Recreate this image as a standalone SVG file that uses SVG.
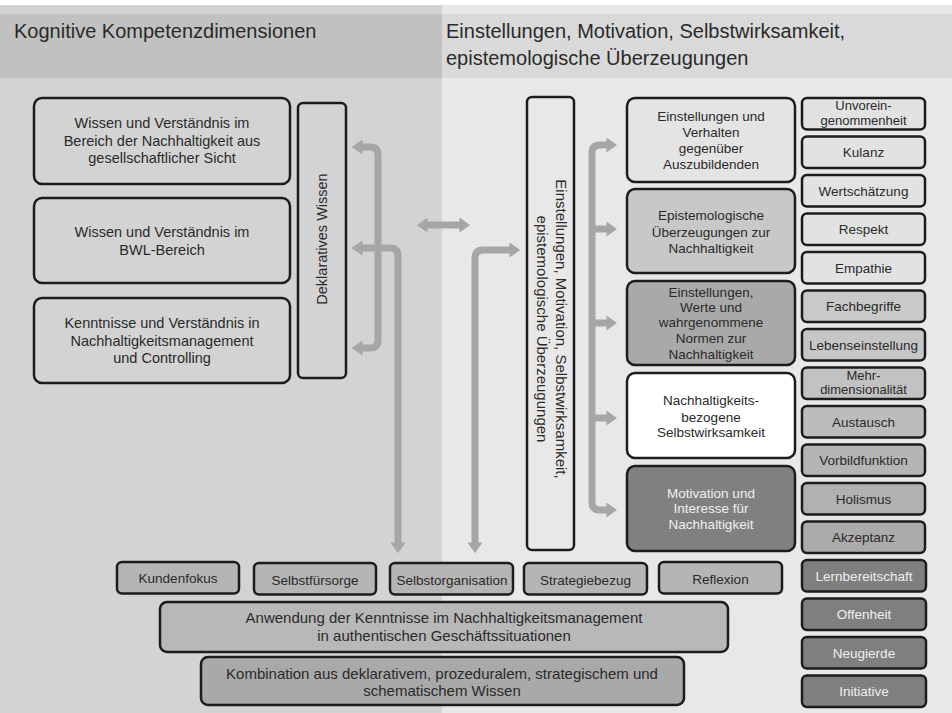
<svg xmlns="http://www.w3.org/2000/svg" width="952" height="713" viewBox="0 0 952 713">
  <style>
    .t { font-family: "Liberation Sans", Arial, sans-serif; fill: #2a2a2a; text-anchor: middle; }
    .hd { font-family: "Liberation Sans", Arial, sans-serif; fill: #2a2a2a; font-size: 20px; }
    .box { stroke: #1c1c1c; stroke-width: 2.5; }
    .f14 { font-size: 14.5px; }
    .f13 { font-size: 13.5px; }
    .f12 { font-size: 13px; }
    .f15 { font-size: 15px; }
    .light { fill: #efefef; }
    .conn { fill: none; stroke: #a6a6a6; stroke-width: 7; }
  </style>
  <defs>
    <marker id="ah" markerUnits="userSpaceOnUse" markerWidth="11" markerHeight="15" viewBox="0 0 10 14" refX="0.5" refY="7" orient="auto-start-reverse">
      <path d="M0,0 L10,7 L0,14 z" fill="#a6a6a6"/>
    </marker>
  </defs>

  <!-- panels -->
  <rect x="0" y="0" width="952" height="713" fill="#ffffff"/>
  <rect x="0" y="5" width="442" height="708" fill="#d3d3d3"/>
  <rect x="442" y="5" width="510" height="708" fill="#e8e8e8"/>
  <rect x="0" y="14" width="442" height="64" fill="#c1c1c1"/>
  <rect x="442" y="14" width="510" height="64" fill="#d9d9d9"/>
  <text class="hd" x="14" y="38">Kognitive Kompetenzdimensionen</text>
  <text class="hd" x="446" y="38">Einstellungen, Motivation, Selbstwirksamkeit,</text>
  <text class="hd" x="446" y="65">epistemologische Überzeugungen</text>

  <!-- connectors -->
  <g id="connectors">
    <path class="conn" d="M362 147 H370 Q378 147 378 155 V340 Q378 348 370 348 H362" marker-start="url(#ah)" marker-end="url(#ah)"/>
    <path class="conn" d="M362 248 H390 Q398 248 398 256 V543" marker-start="url(#ah)" marker-end="url(#ah)"/>
    <path class="conn" d="M427 225 H460" marker-start="url(#ah)" marker-end="url(#ah)"/>
    <path class="conn" d="M510 250 H483 Q475 250 475 258 V543" marker-start="url(#ah)" marker-end="url(#ah)"/>
    <path class="conn" d="M607 145 H600 Q592 145 592 153 V502 Q592 510 600 510 H607" marker-start="url(#ah)" marker-end="url(#ah)"/>
    <path class="conn" d="M592 229 H607" marker-end="url(#ah)"/>
    <path class="conn" d="M592 323 H607" marker-end="url(#ah)"/>
    <path class="conn" d="M592 418 H607" marker-end="url(#ah)"/>
  </g>

  <!-- left knowledge boxes -->
  <g id="wissen-gesellschaft">
    <rect class="box" x="34" y="98" width="256" height="86" rx="8" fill="#d3d3d3"/>
    <text class="t f14" x="162" y="128">Wissen und Verständnis im</text>
    <text class="t f14" x="162" y="145.5">Bereich der Nachhaltigkeit aus</text>
    <text class="t f14" x="162" y="163">gesellschaftlicher Sicht</text>
  </g>
  <g id="wissen-bwl">
    <rect class="box" x="34" y="198" width="256" height="85" rx="8" fill="#d3d3d3"/>
    <text class="t f14" x="162" y="237">Wissen und Verständnis im</text>
    <text class="t f14" x="162" y="254.5">BWL-Bereich</text>
  </g>
  <g id="kenntnisse-nhm">
    <rect class="box" x="34" y="298" width="256" height="85" rx="8" fill="#d3d3d3"/>
    <text class="t f14" x="162" y="328">Kenntnisse und Verständnis in</text>
    <text class="t f14" x="162" y="345.5">Nachhaltigkeitsmanagement</text>
    <text class="t f14" x="162" y="363">und Controlling</text>
  </g>
  <g id="deklaratives-wissen">
    <rect class="box" x="298" y="103" width="48" height="275" rx="5" fill="#d3d3d3"/>
    <text class="t f14" transform="translate(322,239) rotate(-90)" x="0" y="5">Deklaratives Wissen</text>
  </g>

  <!-- central attitude box -->
  <g id="einstellungen-gesamt">
    <rect class="box" x="527" y="97" width="47" height="453" rx="5" fill="#e8e8e8"/>
    <text class="t f15" transform="translate(550,329) rotate(90)" x="0" y="-6">Einstellungen, Motivation, Selbstwirksamkeit,</text>
    <text class="t f15" transform="translate(550,329) rotate(90)" x="0" y="13">epistemologische Überzeugungen</text>
  </g>

  <!-- attitude sub-dimensions -->
  <g id="einstellungen-verhalten">
    <rect class="box" x="627" y="98" width="168" height="84" rx="8" fill="#e4e4e4"/>
    <text class="t f13" x="711" y="121">Einstellungen und</text>
    <text class="t f13" x="711" y="137">Verhalten</text>
    <text class="t f13" x="711" y="153">gegenüber</text>
    <text class="t f13" x="711" y="169">Auszubildenden</text>
  </g>
  <g id="epistemologische-ueberzeugungen">
    <rect class="box" x="627" y="189" width="168" height="84" rx="8" fill="#c8c8c8"/>
    <text class="t f13" x="711" y="220">Epistemologische</text>
    <text class="t f13" x="711" y="236.5">Überzeugungen zur</text>
    <text class="t f13" x="711" y="252.5">Nachhaltigkeit</text>
  </g>
  <g id="werte-normen">
    <rect class="box" x="627" y="281" width="168" height="84" rx="8" fill="#a9a9a9"/>
    <text class="t f13" x="711" y="296.5">Einstellungen,</text>
    <text class="t f13" x="711" y="311.5">Werte und</text>
    <text class="t f13" x="711" y="327">wahrgenommene</text>
    <text class="t f13" x="711" y="343">Normen zur</text>
    <text class="t f13" x="711" y="359">Nachhaltigkeit</text>
  </g>
  <g id="selbstwirksamkeit">
    <rect class="box" x="627" y="373" width="168" height="85" rx="8" fill="#ffffff"/>
    <text class="t f13" x="711" y="405">Nachhaltigkeits-</text>
    <text class="t f13" x="711" y="421.5">bezogene</text>
    <text class="t f13" x="711" y="436.5">Selbstwirksamkeit</text>
  </g>
  <g id="motivation-interesse">
    <rect class="box" x="627" y="466" width="168" height="85" rx="8" fill="#808080"/>
    <text class="t f13 light" x="711" y="497.5">Motivation und</text>
    <text class="t f13 light" x="711" y="513">Interesse für</text>
    <text class="t f13 light" x="711" y="529">Nachhaltigkeit</text>
  </g>

  <!-- facet column -->
  <g id="unvoreingenommenheit">
    <rect class="box" x="802" y="98" width="123" height="31.5" rx="5" fill="#e2e2e2"/>
    <text class="t f12" x="863.5" y="110">Unvorein-</text>
    <text class="t f12" x="863.5" y="124.5">genommenheit</text>
  </g>
  <g id="kulanz">
    <rect class="box" x="802" y="136.5" width="123" height="31.5" rx="5" fill="#e2e2e2"/>
    <text class="t f13" x="863.5" y="157">Kulanz</text>
  </g>
  <g id="wertschaetzung">
    <rect class="box" x="802" y="175" width="123" height="31.5" rx="5" fill="#e2e2e2"/>
    <text class="t f13" x="863.5" y="195.5">Wertschätzung</text>
  </g>
  <g id="respekt">
    <rect class="box" x="802" y="213.5" width="123" height="31.5" rx="5" fill="#e2e2e2"/>
    <text class="t f13" x="863.5" y="234">Respekt</text>
  </g>
  <g id="empathie">
    <rect class="box" x="802" y="252" width="123" height="31.5" rx="5" fill="#e2e2e2"/>
    <text class="t f13" x="863.5" y="272.5">Empathie</text>
  </g>
  <g id="fachbegriffe">
    <rect class="box" x="802" y="290.5" width="123" height="31.5" rx="5" fill="#c9c9c9"/>
    <text class="t f13" x="863.5" y="311">Fachbegriffe</text>
  </g>
  <g id="lebenseinstellung">
    <rect class="box" x="802" y="329" width="123" height="31.5" rx="5" fill="#c6c6c6"/>
    <text class="t f13" x="863.5" y="349.5">Lebenseinstellung</text>
  </g>
  <g id="mehrdimensionalitaet">
    <rect class="box" x="802" y="367.5" width="123" height="31.5" rx="5" fill="#c2c2c2"/>
    <text class="t f12" x="863.5" y="379.5">Mehr-</text>
    <text class="t f12" x="863.5" y="394">dimensionalität</text>
  </g>
  <g id="austausch">
    <rect class="box" x="802" y="406" width="123" height="31.5" rx="5" fill="#bcbcbc"/>
    <text class="t f13" x="863.5" y="426.5">Austausch</text>
  </g>
  <g id="vorbildfunktion">
    <rect class="box" x="802" y="444.5" width="123" height="31.5" rx="5" fill="#b5b5b5"/>
    <text class="t f13" x="863.5" y="465">Vorbildfunktion</text>
  </g>
  <g id="holismus">
    <rect class="box" x="802" y="483" width="123" height="31.5" rx="5" fill="#b1b1b1"/>
    <text class="t f13" x="863.5" y="503.5">Holismus</text>
  </g>
  <g id="akzeptanz">
    <rect class="box" x="802" y="521.5" width="123" height="31.5" rx="5" fill="#ababab"/>
    <text class="t f13" x="863.5" y="542">Akzeptanz</text>
  </g>
  <g id="lernbereitschaft">
    <rect class="box" x="802" y="560" width="124" height="31.5" rx="5" fill="#7f7f7f"/>
    <text class="t f13 light" x="864" y="580.5">Lernbereitschaft</text>
  </g>
  <g id="offenheit">
    <rect class="box" x="802" y="598.5" width="124" height="31.5" rx="5" fill="#7f7f7f"/>
    <text class="t f13 light" x="864" y="619">Offenheit</text>
  </g>
  <g id="neugierde">
    <rect class="box" x="802" y="637" width="124" height="31.5" rx="5" fill="#7f7f7f"/>
    <text class="t f13 light" x="864" y="657.5">Neugierde</text>
  </g>
  <g id="initiative">
    <rect class="box" x="802" y="675.5" width="124" height="31.5" rx="5" fill="#7f7f7f"/>
    <text class="t f13 light" x="864" y="696">Initiative</text>
  </g>

  <!-- procedural / strategic row -->
  <g id="kundenfokus">
    <rect class="box" x="117" y="562" width="122" height="31.5" rx="5" fill="#b5b5b5"/>
    <text class="t f13" x="178" y="583">Kundenfokus</text>
  </g>
  <g id="selbstfuersorge">
    <rect class="box" x="254" y="563" width="122" height="31.5" rx="5" fill="#b5b5b5"/>
    <text class="t f13" x="315" y="584.5">Selbstfürsorge</text>
  </g>
  <g id="selbstorganisation">
    <rect class="box" x="390" y="563" width="123" height="31.5" rx="5" fill="#b5b5b5"/>
    <text class="t f13" x="452" y="584.5">Selbstorganisation</text>
  </g>
  <g id="strategiebezug">
    <rect class="box" x="524" y="563" width="123" height="31.5" rx="5" fill="#b5b5b5"/>
    <text class="t f13" x="585.5" y="584.5">Strategiebezug</text>
  </g>
  <g id="reflexion">
    <rect class="box" x="659" y="562" width="123" height="31.5" rx="5" fill="#b5b5b5"/>
    <text class="t f13" x="720.5" y="583.5">Reflexion</text>
  </g>
  <g id="anwendung">
    <rect class="box" x="160" y="602" width="568" height="50" rx="7" fill="#b8b8b8"/>
    <text class="t f15" x="444" y="623">Anwendung der Kenntnisse im Nachhaltigkeitsmanagement</text>
    <text class="t f15" x="444" y="641">in authentischen Geschäftssituationen</text>
  </g>
  <g id="kombination">
    <rect class="box" x="201" y="657" width="483" height="48" rx="7" fill="#a9a9a9"/>
    <text class="t f15" x="442" y="679">Kombination aus deklarativem, prozeduralem, strategischem und</text>
    <text class="t f15" x="442" y="696">schematischem Wissen</text>
  </g>
</svg>
